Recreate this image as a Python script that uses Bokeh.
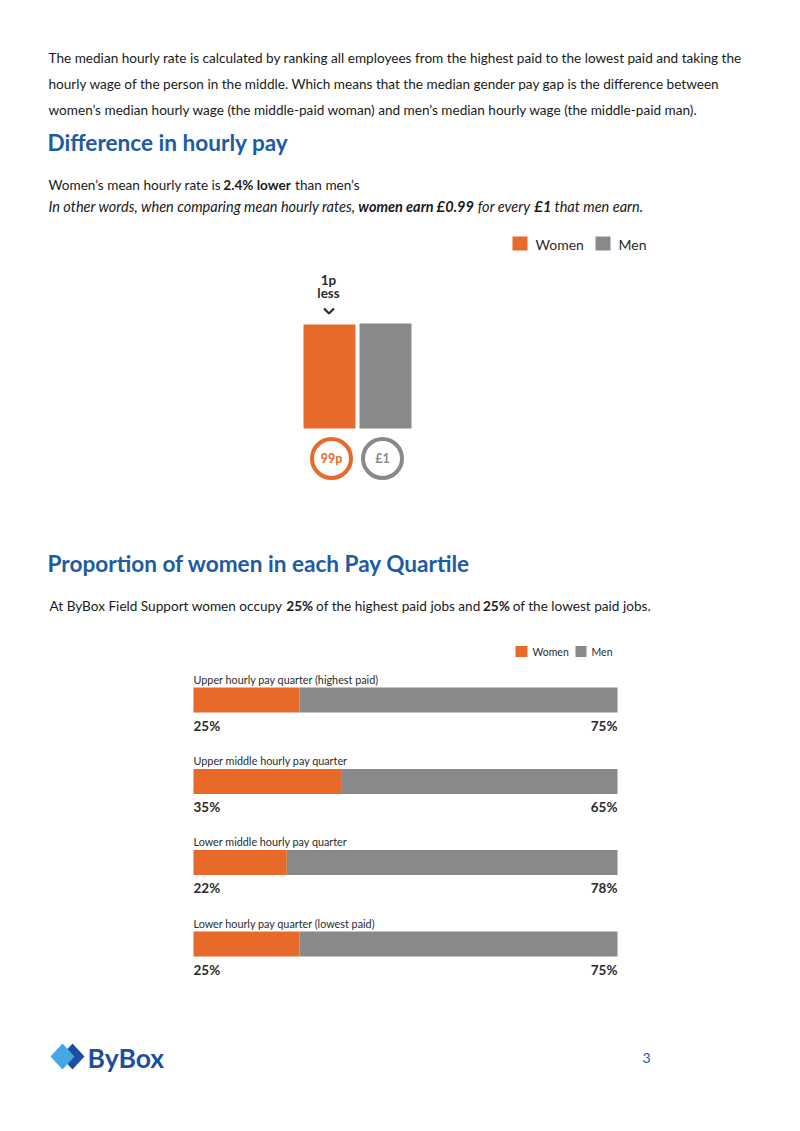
from bokeh.plotting import figure
from bokeh.models import Range1d
from bokeh.core.properties import value
from bokeh.embed import file_html
from bokeh.resources import INLINE

# ---- data -------------------------------------------------------------
intro_lines = [
    "The median hourly rate is calculated by ranking all employees from the highest paid to the lowest paid and taking the",
    "hourly wage of the person in the middle. Which means that the median gender pay gap is the difference between",
    "women\u2019s median hourly wage (the middle-paid woman) and men\u2019s median hourly wage (the middle-paid man).",
]
heading_pay = "Difference in hourly pay"
heading_quartile = "Proportion of women in each Pay Quartile"

pay_groups = ["Women", "Men"]
pay_values = [0.99, 1.00]          # pounds earned per £1 men earn
pay_ring_labels = ["99p", "\u00a31"]
pay_gap_label = ["1p", "less"]
mean_gap_pct = "2.4%"

quartile_names = [
    "Upper hourly pay quarter (highest paid)",
    "Upper middle hourly pay quarter",
    "Lower middle hourly pay quarter",
    "Lower hourly pay quarter (lowest paid)",
]
women_pct = [25, 35, 22, 25]
men_pct = [75, 65, 78, 75]
page_number = "3"

# ---- styling ----------------------------------------------------------
ORANGE = "#E76A2B"
GREY = "#88898B"
BLUE = "#1D5BA4"
INK = "#1a1a1a"
CHART_INK = "#2b2b2b"
BODY = value("Lato")
BODY_PX = 13.6
ITALIC_PX = 14.5
SPACE = 3.8

W, H = 800, 1131
p = figure(width=W, height=H, x_range=Range1d(0, W), y_range=Range1d(H, 0),
           output_backend="svg", toolbar_location=None, min_border=0,
           background_fill_color="white", border_fill_color="white")
p.axis.visible = False
p.grid.visible = False
p.outline_line_color = None

# value range for the vertical pay bars: 0 at y=428, 1.0 at y=323
bar_base, px_per_pound = 428.0, 105.0
p.extra_y_ranges = {"pay": Range1d(start=(bar_base - H) / px_per_pound,
                                   end=bar_base / px_per_pound)}
# percentage range for the quartile bars: 0% at x=193, 100% at x=617
q_left, px_per_pct = 193.0, 4.24
p.extra_x_ranges = {"pct": Range1d(start=-q_left / px_per_pct,
                                   end=(W - q_left) / px_per_pct)}


def txt(x, y, s, size=BODY_PX, style="normal", color=INK, align="left", font=BODY):
    p.text(x=[x], y=[y], text=[s], text_font=font, text_font_size=f"{size}px",
           text_font_style=style, text_color=color, text_align=align,
           text_baseline="middle")


def run(x, y, parts, size):
    """Lay out a line of mixed-weight pieces one after another.
    Each piece is (text, style, approximate width in px)."""
    for s, style, width in parts:
        txt(x, y, s, size=size, style=style)
        x += width + SPACE


# ---- intro paragraph ---------------------------------------------------
for i, line in enumerate(intro_lines):
    txt(48, 57 + 26 * i, line)

txt(47, 142, heading_pay, size=22.6, style="bold", color=BLUE)

run(48, 184, [("Women\u2019s mean hourly rate is", "normal", 171),
              (f"{mean_gap_pct} lower", "bold", 68),
              ("than men\u2019s", "normal", 65)], BODY_PX)

run(48, 206, [("In other words, when comparing mean hourly rates,", "italic", 306),
              ("women earn \u00a30.99", "bold italic", 115.6),
              ("for every", "italic", 53),
              ("\u00a31", "bold italic", 16.2),
              ("that men earn.", "italic", 87)], ITALIC_PX)

# ---- pay comparison chart --------------------------------------------
p.quad(left=[512, 595], right=[527, 610], top=[236, 236], bottom=[250, 250],
       fill_color=[ORANGE, GREY], line_color=None)
txt(535, 244, pay_groups[0], size=14, color=CHART_INK)
txt(618, 244, pay_groups[1], size=14, color=CHART_INK)

p.vbar(x=[329, 385], width=52, bottom=0, top=pay_values,
       fill_color=[ORANGE, GREY], line_color=None, y_range_name="pay")

txt(328, 279, pay_gap_label[0], size=13.5, style="bold", color=CHART_INK, align="center")
txt(328, 292, pay_gap_label[1], size=13.5, style="bold", color=CHART_INK, align="center")
p.line(x=[323.5, 328.5, 333.5], y=[308, 313, 308], line_width=2.2, line_color=CHART_INK)

p.circle(x=[331, 382], y=[458, 458], radius=19.5, fill_color="white",
         line_color=[ORANGE, GREY], line_width=4)
txt(331, 458, pay_ring_labels[0], size=12.5, style="bold", color=ORANGE, align="center")
txt(382, 458, pay_ring_labels[1], size=12.5, style="bold", color=GREY, align="center")

# ---- quartile section -------------------------------------------------
txt(47, 563, heading_quartile, size=22.6, style="bold", color=BLUE)

run(49, 605, [("At ByBox Field Support women occupy", "normal", 233),
              (f"{women_pct[0]}%", "bold", 26),
              ("of the highest paid jobs and", "normal", 163),
              (f"{women_pct[3]}%", "bold", 26),
              ("of the lowest paid jobs.", "normal", 135)], BODY_PX)

p.quad(left=[515, 575], right=[527, 586], top=[645.5, 645.5], bottom=[656.5, 656.5],
       fill_color=[ORANGE, GREY], line_color=None)
txt(532, 651, "Women", size=10.5, color=CHART_INK)
txt(591, 651, "Men", size=10.5, color=CHART_INK)

row_y = [699.5, 781, 862, 943.5]
p.hbar(y=row_y, height=25, left=0, right=women_pct, fill_color=ORANGE,
       line_color=None, x_range_name="pct")
p.hbar(y=row_y, height=25, left=women_pct, right=[w + m for w, m in zip(women_pct, men_pct)],
       fill_color=GREY, line_color=None, x_range_name="pct")

for name, yc, w, m in zip(quartile_names, row_y, women_pct, men_pct):
    txt(193, yc - 21, name, size=10.8, color=CHART_INK)
    p.text(x=[0], y=[yc + 25.5], text=[f"{w}%"], x_range_name="pct",
           text_font=BODY, text_font_size="13.5px", text_font_style="bold",
           text_color=CHART_INK, text_align="left", text_baseline="middle")
    p.text(x=[w + m], y=[yc + 25.5], text=[f"{m}%"], x_range_name="pct",
           text_font=BODY, text_font_size="13.5px", text_font_style="bold",
           text_color=CHART_INK, text_align="right", text_baseline="middle")

# ---- footer -------------------------------------------------------------
p.patch(x=[60, 72, 84, 72], y=[1056, 1043, 1056, 1069], fill_color="#1E4F9E", line_color=None)
p.patch(x=[50, 62, 74, 62], y=[1056, 1043, 1056, 1069], fill_color="#45A7E4", line_color=None)
txt(87, 1057, "ByBox", size=26.5, style="bold", color="#1E4F9E")
txt(646, 1057, page_number, size=14, color=BLUE, align="center")

open("out.html", "w").write(file_html(p, INLINE))
